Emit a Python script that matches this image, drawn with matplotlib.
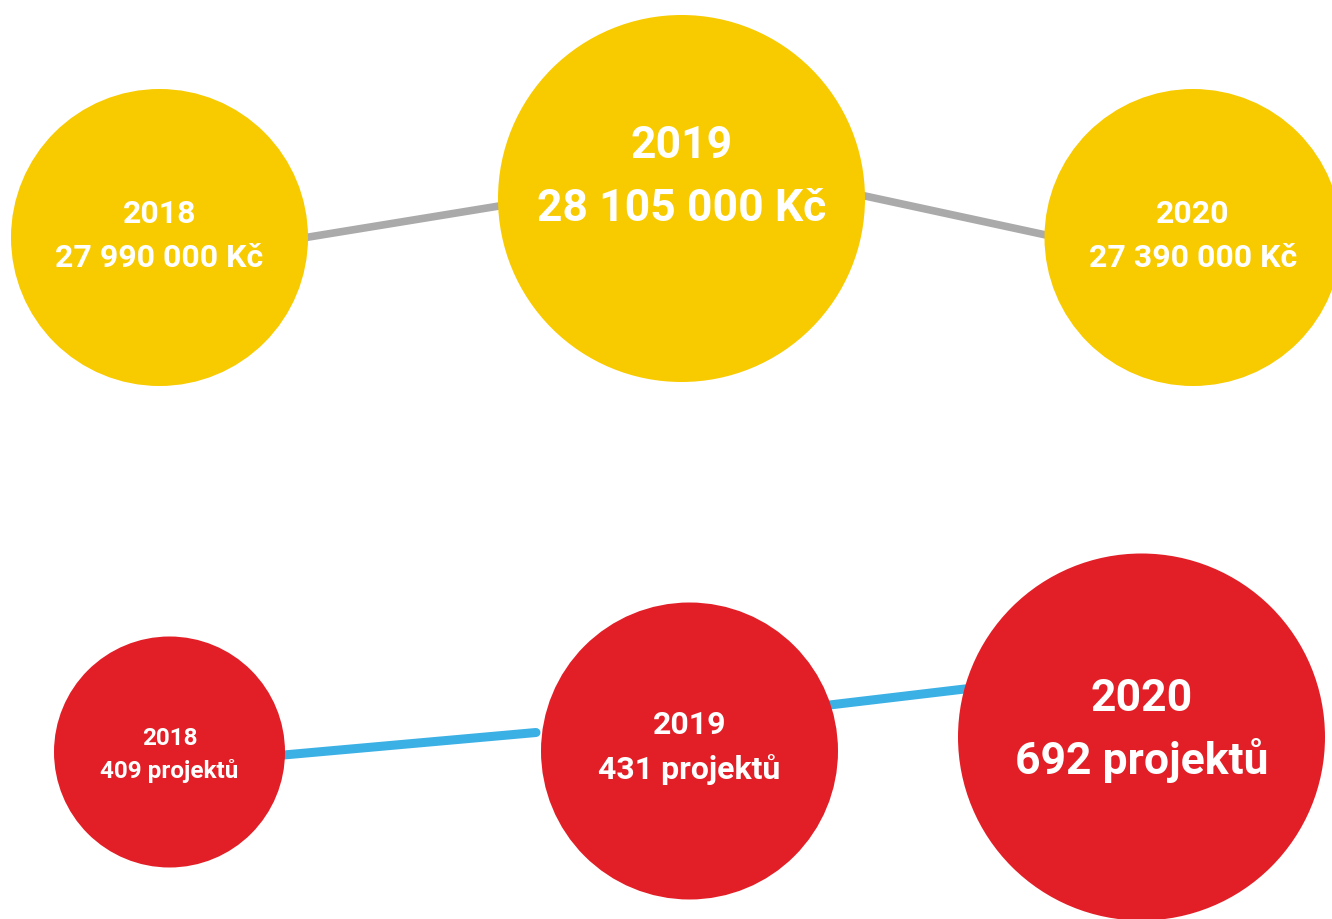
import matplotlib.pyplot as plt
from matplotlib.patches import Circle

## Data
years = ["2018", "2019", "2020"]
budget = ["27 990 000 Kč", "28 105 000 Kč", "27 390 000 Kč"]
projects = ["409 projektů", "431 projektů", "692 projektů"]

## Layout (pixel space of the 1332x920 canvas)
top_x = [159.5, 681.5, 1193]
top_y = [238.5, 199.5, 238.5]
top_r = [148.5, 183.5, 148.5]
top_fs = [23, 32, 23]
top_dy = [(-27, 17), (-56, 7), (-27, 17)]

bot_x = [169.5, 689.5, 1141.5]
bot_y = [753, 752, 738]
bot_r = [115.5, 148.5, 183.5]
bot_fs = [17.5, 23, 32]
bot_dy = [(-17, 16), (-29, 16), (-41, 21)]

yellow = "#F8CA00"
red = "#E21F26"
gray = "#AAAAAA"
blue = "#3BB0E5"

plt.rcParams['font.family'] = ['Roboto', 'DejaVu Sans']

fig = plt.figure(figsize=(13.32, 9.2), dpi=100)
ax = fig.add_axes([0, 0, 1, 1])
ax.set_xlim(0, 1332)
ax.set_ylim(920, 0)
ax.set_aspect("equal")
ax.axis("off")

## connecting lines (drawn under bubbles)
ax.plot([250, 520], [247.6, 203.6], color=gray, lw=5.5, solid_capstyle="round", zorder=1)
ax.plot([840, 1070], [191.6, 241.2], color=gray, lw=5.5, solid_capstyle="round", zorder=1)
ax.plot([250, 536], [759, 733.5], color=blue, lw=6.5, solid_capstyle="round", zorder=1)
ax.plot([800, 990], [709.5, 687], color=blue, lw=6.5, solid_capstyle="round", zorder=1)

## bubbles
for i in range(3):
    ax.add_patch(Circle((top_x[i], top_y[i]), top_r[i], color=yellow, lw=0, zorder=2))
    ax.text(top_x[i], top_y[i] + top_dy[i][0] + 2.5, years[i], color="white", fontsize=top_fs[i],
            fontweight="bold", ha="center", va="center", zorder=3)
    ax.text(top_x[i], top_y[i] + top_dy[i][1] + 2.5, budget[i], color="white", fontsize=top_fs[i],
            fontweight="bold", ha="center", va="center", zorder=3)

    ax.add_patch(Circle((bot_x[i], bot_y[i]), bot_r[i], color=red, lw=0, zorder=2))
    ax.text(bot_x[i], bot_y[i] + bot_dy[i][0] + 2.5, years[i], color="white", fontsize=bot_fs[i],
            fontweight="bold", ha="center", va="center", zorder=3)
    ax.text(bot_x[i], bot_y[i] + bot_dy[i][1] + 2, projects[i], color="white", fontsize=bot_fs[i],
            fontweight="bold", ha="center", va="center", zorder=3)

fig.savefig("out.png", dpi=100, facecolor="white")
